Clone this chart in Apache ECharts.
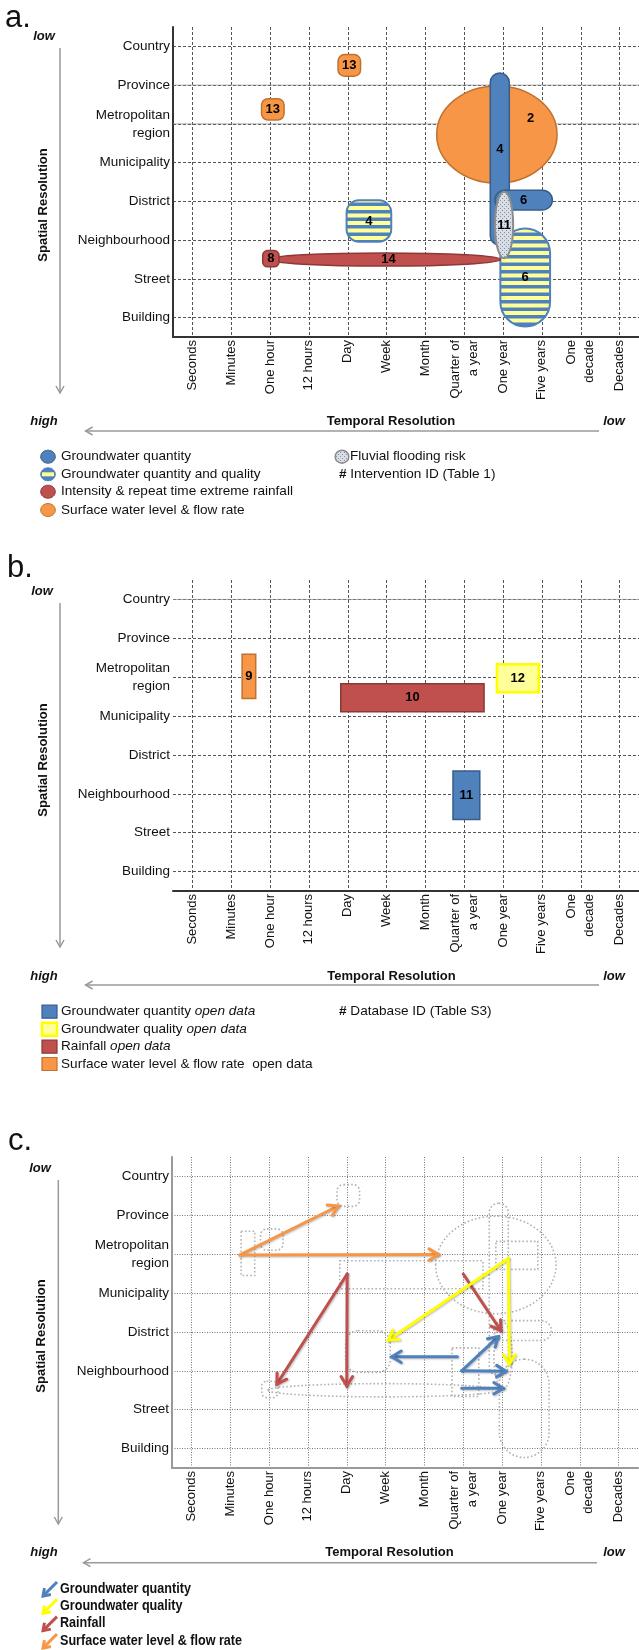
<!DOCTYPE html>
<html>
<head>
<meta charset="utf-8">
<title>Spatial and temporal resolution</title>
<script src="https://cdn.jsdelivr.net/npm/echarts@6/dist/echarts.min.js"></script>
<style>
  html, body { margin: 0; padding: 0; background: #fff; }
  #chart { width: 639px; height: 1650px; }
</style>
</head>
<body>
<div id="chart"></div>
<script>
// axis categories
const temporalLabels = ['Seconds', 'Minutes', 'One hour', '12 hours', 'Day', 'Week', 'Month',
  'Quarter of\na year', 'One year', 'Five years', 'One\ndecade', 'Decades'];
const spatialLabels = ['Country', 'Province', 'Metropolitan\nregion', 'Municipality', 'District',
  'Neighbourhood', 'Street', 'Building'];

// panel a: interventions [id, theme, time from, time to, space from, space to] (axis index units)
const interventions = [
  ['2', 'surface', 6.29, 9.39, 1.02, 3.53],
  ['4', 'gwQuantity', 7.67, 8.16, 0.69, 5.13],
  ['6', 'gwQuantity', 7.79, 9.27, 3.71, 4.22],
  ['6', 'gwBoth', 7.93, 9.21, 4.70, 7.23],
  ['4', 'gwBoth', 3.97, 5.12, 3.97, 5.04],
  ['14', 'rain', 1.97, 7.93, 5.33, 5.67],
  ['8', 'rain', 1.81, 2.23, 5.27, 5.69],
  ['11', 'flood', 7.79, 8.26, 3.75, 5.47],
  ['13', 'surface', 3.75, 4.33, 0.21, 0.77],
  ['13', 'surface', 1.78, 2.36, 1.35, 1.90]
];
// where an ID is written when it is not in the middle of its area
const interventionIdAt = { 0: [8.71, 1.87], 1: [7.92, 2.67], 5: [5.05, 5.50] };

// panel b: open databases [id, theme, time from, time to, space from, space to]
const databases = [
  ['9', 'surface', 1.28, 1.63, 1.41, 2.55],
  ['10', 'rain', 3.82, 7.51, 2.17, 2.89],
  ['12', 'gwQuality', 7.84, 8.92, 1.67, 2.39],
  ['11', 'gwQuantity', 6.71, 7.40, 4.41, 5.66]
];

// panel c: resolution shifts [theme, time from, space from, time to, space to]
const shifts = [
  ['surface', 1.25, 2.02, 3.78, 0.76],
  ['surface', 1.25, 2.02, 6.36, 2.01],
  ['rain', 4.01, 2.51, 2.20, 5.34],
  ['rain', 4.01, 2.51, 4.00, 5.39],
  ['rain', 7.00, 2.51, 7.97, 3.97],
  ['gwQuality', 8.16, 2.11, 5.07, 4.21],
  ['gwQuality', 8.16, 2.11, 8.19, 4.83],
  ['gwQuantity', 6.85, 4.64, 5.16, 4.64],
  ['gwQuantity', 6.96, 5.00, 7.90, 4.12],
  ['gwQuantity', 6.96, 5.00, 8.10, 5.01],
  ['gwQuantity', 6.96, 5.45, 8.03, 5.45]
];

// rows whose grid line is drawn as a plain grey rule in the source figure
const plainRowsA = [1, 2];
const plainRowsB = [0];

// legends
const legendA = ['Groundwater quantity', 'Groundwater quantity and quality',
  'Intensity & repeat time extreme rainfall', 'Surface water level & flow rate'];
const legendAThemes = ['gwQuantity', 'gwBoth', 'rain', 'surface'];
const legendB = ['Groundwater quantity', 'Groundwater quality', 'Rainfall', 'Surface water level & flow rate'];
const legendBThemes = ['gwQuantity', 'gwQuality', 'rain', 'surface'];
const legendC = ['Groundwater quantity', 'Groundwater quality', 'Rainfall', 'Surface water level & flow rate'];
const legendCThemes = ['gwQuantity', 'gwQuality', 'rain', 'surface'];

// ---------- styles ----------
const FONT = '"Liberation Sans", Arial, Helvetica, sans-serif';
const INK = '#111';

function stripeCanvas() {
  const c = document.createElement('canvas');
  c.width = 4; c.height = 15;
  const g = c.getContext('2d');
  g.fillStyle = '#FFFF99'; g.fillRect(0, 0, 4, 15);
  g.fillStyle = '#4F81BD'; g.fillRect(0, 0, 4, 3.5); g.fillRect(0, 7.5, 4, 3.5);
  return c;
}
function dotCanvas() {
  const c = document.createElement('canvas');
  c.width = 4; c.height = 4;
  const g = c.getContext('2d');
  g.fillStyle = '#d9dee5'; g.fillRect(0, 0, 4, 4);
  g.fillStyle = '#8090a8'; g.fillRect(0, 0, 1, 1); g.fillRect(2, 2, 1, 1);
  return c;
}
const THEMES = {
  gwQuantity: { fill: '#4F81BD', stroke: '#385D8A', arrow: '#4F81BD' },
  gwBoth: { fill: { image: stripeCanvas(), repeat: 'repeat' }, stroke: '#4F81BD', lineWidth: 2 },
  gwQuality: { fill: '#FFFF99', stroke: '#FFFF00', lineWidth: 2.5, arrow: '#FFFF00' },
  rain: { fill: '#C0504D', stroke: '#8C3836', arrow: '#C0504D' },
  surface: { fill: '#F79646', stroke: '#C0712F', arrow: '#F79646' },
  flood: { fill: { image: dotCanvas(), repeat: 'repeat' }, stroke: '#8c8c8c', lineWidth: 2 }
};
const interventionForms = ['ellipse', 'capsule', 'capsule', 'capsule', 'round', 'ellipse', 'round', 'ellipse', 'round', 'round'];
const databaseForms = ['rect', 'rect', 'rect', 'rect'];

const panels = [
  { grid: { left: 173, top: 27, width: 466, height: 310 }, gridColor: '#555', gridDash: [3, 2], axisColor: '#333', axisWidth: 2, yLine: true },
  { grid: { left: 173, top: 580, width: 466, height: 311 }, gridColor: '#555', gridDash: [3, 2], axisColor: '#333', axisWidth: 2, yLine: false },
  { grid: { left: 172, top: 1157, width: 466, height: 311 }, gridColor: '#777', gridDash: [1, 1.5], axisColor: '#999', axisWidth: 2, yLine: true }
];

const xTicks = temporalLabels.map((_, i) => i);
const yTicks = spatialLabels.map((_, i) => i);

function xAxisFor(p, i) {
  return {
    type: 'value', gridIndex: i, min: -0.5, max: 11.5,
    axisLine: { show: true, onZero: false, lineStyle: { color: p.axisColor, width: p.axisWidth } },
    axisTick: { show: false, customValues: xTicks },
    axisLabel: {
      customValues: xTicks, formatter: v => temporalLabels[Math.round(v)],
      rotate: 90, margin: 3, fontSize: 13, lineHeight: 18, color: INK, fontFamily: FONT
    },
    splitLine: { show: true, lineStyle: { color: p.gridColor, width: 1, type: p.gridDash } }
  };
}
function yAxisFor(p, i) {
  return {
    type: 'value', gridIndex: i, inverse: true, min: -0.5, max: 7.5,
    axisLine: { show: p.yLine, onZero: false, lineStyle: { color: p.axisColor, width: p.axisWidth } },
    axisTick: { show: false, customValues: yTicks },
    axisLabel: {
      customValues: yTicks, formatter: v => spatialLabels[Math.round(v)],
      margin: 3, fontSize: 13.5, lineHeight: 18, color: INK, fontFamily: FONT, align: 'right'
    },
    splitLine: { show: true, lineStyle: { color: p.gridColor, width: 1, type: p.gridDash } }
  };
}

// plain grey rules over some dashed rows
function plainRowSeries(rows, gridIndex) {
  return {
    type: 'custom', xAxisIndex: gridIndex, yAxisIndex: gridIndex, silent: true, z: 1,
    data: rows.map(r => [r]),
    encode: { y: 0 },
    renderItem: function (params, api) {
      const a = api.coord([-0.5, api.value(0)]);
      const b = api.coord([11.5, api.value(0)]);
      return { type: 'line', shape: { x1: a[0], y1: a[1], x2: b[0], y2: b[1] }, style: { stroke: 'rgba(140,140,140,0.7)', lineWidth: 1 } };
    }
  };
}

// areas (panels a, b) and their grey traces (panel c)
function areaSeries(rows, forms, idAt, gridIndex, ghost) {
  return {
    type: 'custom', xAxisIndex: gridIndex, yAxisIndex: gridIndex, silent: true,
    data: rows.map(r => [r[2], r[3], r[4], r[5]]),
    encode: { x: [0, 1], y: [2, 3] },
    z: ghost ? 2 : 3,
    renderItem: function (params, api) {
      const k = params.dataIndex;
      const a = api.coord([api.value(0), api.value(2)]);
      const b = api.coord([api.value(1), api.value(3)]);
      const x = Math.min(a[0], b[0]), y = Math.min(a[1], b[1]);
      const w = Math.abs(b[0] - a[0]), h = Math.abs(b[1] - a[1]);
      const th = THEMES[rows[k][1]];
      const style = ghost
        ? { fill: 'none', stroke: '#b2b2b2', lineWidth: 1.6, lineDash: [1.6, 2.2] }
        : { fill: th.fill, stroke: th.stroke, lineWidth: th.lineWidth || 1.5 };
      const form = forms[k];
      let body;
      if (form === 'ellipse') {
        body = { type: 'ellipse', shape: { cx: x + w / 2, cy: y + h / 2, rx: w / 2, ry: h / 2 }, style: style };
      } else {
        const r = form === 'capsule' ? Math.min(w, h) / 2 : form === 'round' ? Math.min(w, h) * 0.3 : 0;
        body = { type: 'rect', shape: { x: x, y: y, width: w, height: h, r: r }, style: style };
      }
      if (ghost) return body;
      const lp = idAt && idAt[k] ? api.coord(idAt[k]) : [x + w / 2, y + h / 2];
      return {
        type: 'group',
        children: [body, {
          type: 'text', x: lp[0], y: lp[1],
          style: { text: rows[k][0], fill: '#000', fontSize: 13, fontWeight: 'bold', fontFamily: FONT, align: 'center', verticalAlign: 'middle' }
        }]
      };
    }
  };
}

function arrowHead(tip, from, len, spread) {
  const ang = Math.atan2(tip[1] - from[1], tip[0] - from[0]);
  return [
    [tip[0] - len * Math.cos(ang - spread), tip[1] - len * Math.sin(ang - spread)],
    tip,
    [tip[0] - len * Math.cos(ang + spread), tip[1] - len * Math.sin(ang + spread)]
  ];
}

const shiftSeries = {
  type: 'custom', xAxisIndex: 2, yAxisIndex: 2, silent: true, z: 4,
  data: shifts.map(r => [r[1], r[2], r[3], r[4]]),
  encode: { x: [0, 2], y: [1, 3] },
  renderItem: function (params, api) {
    const col = THEMES[shifts[params.dataIndex][0]].arrow;
    const p0 = api.coord([api.value(0), api.value(1)]);
    const p1 = api.coord([api.value(2), api.value(3)]);
    const shadow = { shadowBlur: 2, shadowColor: 'rgba(0,0,0,0.25)', shadowOffsetX: 1, shadowOffsetY: 1 };
    return {
      type: 'group',
      children: [
        { type: 'line', shape: { x1: p0[0], y1: p0[1], x2: p1[0], y2: p1[1] },
          style: Object.assign({ stroke: col, lineWidth: 3, lineCap: 'round' }, shadow) },
        { type: 'polyline', shape: { points: arrowHead(p1, p0, 11, 0.55) },
          style: Object.assign({ stroke: col, lineWidth: 3, fill: null, lineCap: 'round', lineJoin: 'miter' }, shadow) }
      ]
    };
  }
};

// ---------- frame decorations (letters, resolution arrows, legends) ----------
const frames = [
  { letter: 'a.', letterX: 5, letterY: 18, lowX: 44, lowY: 36.5, spatialX: 43, spatialY: 205, arrowX: 60, arrowTop: 48, arrowBottom: 393, bottomY: 421.7, trX: 391, hArrowY: 431, hFrom: 85.6, hTo: 599 },
  { letter: 'b.', letterX: 7, letterY: 568, lowX: 42, lowY: 591.5, spatialX: 43, spatialY: 760, arrowX: 60, arrowTop: 603, arrowBottom: 947, bottomY: 976.7, trX: 391.5, hArrowY: 985, hFrom: 85.6, hTo: 599 },
  { letter: 'c.', letterX: 8, letterY: 1141.6, lowX: 40, lowY: 1168.5, spatialX: 41, spatialY: 1336, arrowX: 58.3, arrowTop: 1180, arrowBottom: 1524, bottomY: 1552.3, trX: 389.5, hArrowY: 1562.7, hFrom: 83.5, hTo: 597 }
];

function text(x, y, str, o) {
  return Object.assign({
    type: 'text', x: x, y: y, silent: true,
    style: Object.assign({ text: str, fill: INK, fontFamily: FONT, fontSize: 13, align: 'left', verticalAlign: 'middle' }, o && o.style)
  }, o && o.el);
}
const graphics = [];
frames.forEach(f => {
  graphics.push(text(f.letterX, f.letterY, f.letter, { style: { fontSize: 31 } }));
  graphics.push(text(f.lowX, f.lowY, 'low', { style: { fontWeight: 'bold', fontStyle: 'italic', align: 'center' } }));
  graphics.push(text(f.spatialX, f.spatialY, 'Spatial Resolution', { el: { rotation: Math.PI / 2 }, style: { fontWeight: 'bold', align: 'center' } }));
  graphics.push(text(44, f.bottomY, 'high', { style: { fontWeight: 'bold', fontStyle: 'italic', align: 'center' } }));
  graphics.push(text(f.trX, f.bottomY, 'Temporal Resolution', { style: { fontWeight: 'bold', align: 'center' } }));
  graphics.push(text(614, f.bottomY, 'low', { style: { fontWeight: 'bold', fontStyle: 'italic', align: 'center' } }));
  const grey = { stroke: '#9a9a9a', lineWidth: 1.5, fill: null };
  graphics.push({ type: 'line', silent: true, shape: { x1: f.arrowX, y1: f.arrowTop, x2: f.arrowX, y2: f.arrowBottom }, style: grey });
  graphics.push({ type: 'polyline', silent: true, shape: { points: [[f.arrowX - 4, f.arrowBottom - 7], [f.arrowX, f.arrowBottom], [f.arrowX + 4, f.arrowBottom - 7]] }, style: grey });
  graphics.push({ type: 'line', silent: true, shape: { x1: f.hFrom, y1: f.hArrowY, x2: f.hTo, y2: f.hArrowY }, style: grey });
  graphics.push({ type: 'polyline', silent: true, shape: { points: [[f.hFrom + 7, f.hArrowY - 4], [f.hFrom, f.hArrowY], [f.hFrom + 7, f.hArrowY + 4]] }, style: grey });
});

const LEG = 13.6;
// legend a
const rowsA = [456.7, 474.3, 491.7, 510];
legendA.forEach((name, i) => {
  const th = THEMES[legendAThemes[i]];
  const y = rowsA[i];
  if (legendAThemes[i] === 'gwBoth') {
    graphics.push({ type: 'ellipse', silent: true, shape: { cx: 48, cy: y, rx: 7.3, ry: 6.5 }, style: { fill: '#4F81BD', stroke: '#4F81BD', lineWidth: 1 } });
    graphics.push({ type: 'rect', silent: true, shape: { x: 42, y: y - 2, width: 12, height: 4 }, style: { fill: '#FFFF99' } });
  } else {
    graphics.push({ type: 'ellipse', silent: true, shape: { cx: 48, cy: y, rx: 7.3, ry: 6.5 }, style: { fill: th.fill, stroke: th.stroke, lineWidth: 1 } });
  }
  graphics.push(text(61, y, name, { style: { fontSize: LEG } }));
});
graphics.push({ type: 'ellipse', silent: true, shape: { cx: 342, cy: rowsA[0], rx: 6.8, ry: 6.5 }, style: { fill: THEMES.flood.fill, stroke: '#8c8c8c', lineWidth: 1.5 } });
graphics.push(text(350, rowsA[0], 'Fluvial flooding risk', { style: { fontSize: LEG } }));
graphics.push(text(339, rowsA[1], '{h|#} Intervention ID (Table 1)', { style: { fontSize: LEG, rich: { h: { fontWeight: 'bold', fontSize: LEG, fontFamily: FONT } } } }));

// legend b
const rowsB = [1011.7, 1029.3, 1046.7, 1064];
legendB.forEach((name, i) => {
  const th = THEMES[legendBThemes[i]];
  const y = rowsB[i];
  graphics.push({ type: 'rect', silent: true, shape: { x: 42, y: y - 6.5, width: 15, height: 13 }, style: { fill: th.fill, stroke: th.stroke, lineWidth: th.lineWidth || 1.2 } });
  const label = i < 3 ? '{n|' + name + ' }{i|open data}' : '{n|' + name + '  open data}';
  graphics.push(text(61, y, label, {
    style: { rich: { n: { fontSize: LEG, fontFamily: FONT, fill: INK }, i: { fontSize: LEG, fontFamily: FONT, fontStyle: 'italic', fill: INK } } }
  }));
});
graphics.push(text(339, rowsB[0], '{h|#} Database ID (Table S3)', { style: { fontSize: LEG, rich: { h: { fontWeight: 'bold', fontSize: LEG, fontFamily: FONT } } } }));

// legend c (condensed bold type)
const rowsC = [1589, 1606.3, 1623.6, 1641];
legendC.forEach((name, i) => {
  const col = THEMES[legendCThemes[i]].arrow;
  const y = rowsC[i];
  const tip = [43, y + 7], tail = [57, y - 7];
  graphics.push({ type: 'line', silent: true, shape: { x1: tail[0], y1: tail[1], x2: tip[0], y2: tip[1] }, style: { stroke: col, lineWidth: 3 } });
  graphics.push({ type: 'polyline', silent: true, shape: { points: arrowHead(tip, tail, 8, 0.6) }, style: { stroke: col, lineWidth: 3, fill: null } });
  graphics.push(text(60, y, name, { el: { scaleX: 0.9 }, style: { fontSize: 14, fontWeight: 'bold' } }));
});

// ---------- chart ----------
const chart = echarts.init(document.getElementById('chart'));
chart.setOption({
  backgroundColor: '#fff',
  animation: false,
  textStyle: { fontFamily: FONT },
  grid: panels.map(p => Object.assign({ containLabel: false, outerBoundsMode: 'none' }, p.grid)),
  xAxis: panels.map(xAxisFor),
  yAxis: panels.map(yAxisFor),
  series: [
    plainRowSeries(plainRowsA, 0),
    plainRowSeries(plainRowsB, 1),
    areaSeries(interventions, interventionForms, interventionIdAt, 0, false),
    areaSeries(databases, databaseForms, null, 1, false),
    areaSeries(interventions, interventionForms, null, 2, true),
    areaSeries(databases, databaseForms, null, 2, true),
    shiftSeries
  ],
  graphic: graphics
});
</script>
</body>
</html>
